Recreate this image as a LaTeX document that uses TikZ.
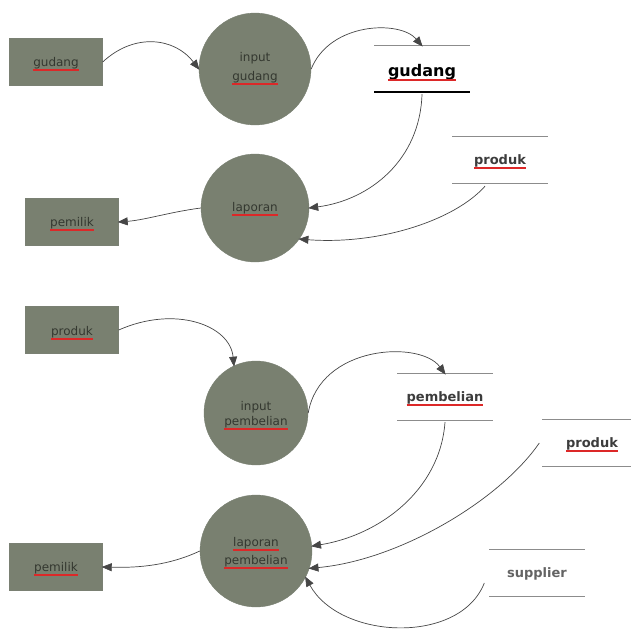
\documentclass[tikz,border=0pt]{standalone}
\usepackage{fontspec}
\setmainfont{DejaVu Sans}
\usetikzlibrary{arrows.meta}
\definecolor{shapefill}{RGB}{121,128,112}
\definecolor{shapetext}{RGB}{52,56,48}
\definecolor{linecol}{RGB}{70,70,70}
\definecolor{spell}{RGB}{220,40,40}
\definecolor{storegray}{RGB}{140,140,140}
\definecolor{storetext}{RGB}{60,60,60}
\tikzset{
  ent/.style={rectangle, fill=shapefill, draw=shapefill!80!gray, minimum width=93pt, minimum height=47pt, inner sep=0pt},
  proc/.style={circle, fill=shapefill, draw=shapefill!80!gray, inner sep=0pt},
  storebox/.style={minimum width=95pt, minimum height=46pt, inner sep=0pt,
    append after command={(\tikzlastnode.north west) edge[storegray, line width=0.8pt] (\tikzlastnode.north east)
                          (\tikzlastnode.south west) edge[storegray, line width=0.8pt] (\tikzlastnode.south east)}},
  word/.style={inner sep=0pt, outer sep=0pt, anchor=base, text=shapetext, font=\fontsize{12}{14}\selectfont},
  sword/.style={inner sep=0pt, outer sep=0pt, anchor=base, text=storetext, font=\bfseries\fontsize{13}{15}\selectfont},
  spelled/.style={append after command={([yshift=-4pt]\tikzlastnode.base west) edge[draw=spell, line width=2pt] ([yshift=-4pt]\tikzlastnode.base east)}},
  thinspelled/.style={append after command={([yshift=-4pt]\tikzlastnode.base west) edge[draw=spell, line width=2pt] ([yshift=-4pt]\tikzlastnode.base east)}},
  flow/.style={draw=linecol, line width=0.7pt, -{Triangle[length=10pt,width=8pt]}, shorten >=-1pt}
}
\begin{document}
\begin{tikzpicture}[x=1pt,y=1pt]
\useasboundingbox (0,0) rectangle (631,-632);
% ---- top diagram ----
\node[ent] (g1) at (56,-62) {};
\node[word, spelled] (g1t) at ([yshift=-4pt]g1.center) {gudang};
\node[proc, minimum size=112pt] (ig) at (255,-69) {};
\node[word] (igt1) at ([yshift=8pt]ig.center) {input};
\node[word, spelled] (igt2) at ([yshift=-11pt]ig.center) {gudang};
\node[minimum width=95pt, minimum height=46pt, inner sep=0pt] (sg) at (422,-69) {};
\draw[storegray, line width=0.8pt] (sg.north west) -- (sg.north east);
\draw[black, line width=1.6pt] (sg.south west) -- (sg.south east);
\node[sword, thinspelled, text=black, font=\bfseries\fontsize{16}{18}\selectfont] (sgt) at ([yshift=-7pt]sg.center) {gudang};
\node[proc, minimum size=108pt] (lap) at (255,-208) {};
\node[word, spelled] (lapt) at ([yshift=-3pt]lap.center) {laporan};
\node[ent] (pm1) at (72,-222) {};
\node[word, spelled] (pm1t) at ([yshift=-4pt]pm1.center) {pemilik};
\node[storebox] (sp1) at (500,-160) {};
\node[sword, thinspelled] (sp1t) at ([yshift=-4pt]sp1.center) {produk};

\draw[flow] (g1.east) .. controls (135,-32) and (175,-38) .. (ig.west);
\draw[flow] (ig.east) .. controls (330,-22) and (400,-20) .. (sg.north);
\draw[flow] ([yshift=-2pt]sg.south) .. controls (420,-160) and (370,-200) .. (lap.east);
\draw[flow] ([xshift=-15pt,yshift=-3pt]sp1.south) .. controls (455,-220) and (380,-245) .. (lap.-35);
\draw[flow] (lap.west) .. controls (170,-212) and (145,-220) .. (pm1.east);

% ---- bottom diagram ----
\node[ent] (pr) at (72,-330) {};
\node[word, spelled] (prt) at ([yshift=-5pt]pr.center) {produk};
\node[proc, minimum size=104pt] (ip) at (256,-413) {};
\node[word] (ipt1) at ([yshift=3pt]ip.center) {input};
\node[word, spelled] (ipt2) at ([yshift=-12pt]ip.center) {pembelian};
\node[storebox] (sp) at (445,-397) {};
\node[sword, thinspelled] (spt) at ([yshift=-4pt]sp.center) {pembelian};
\node[storebox, minimum width=91pt] (sp2) at (588,-443) {};
\node[sword, thinspelled] (sp2t) at ([xshift=4pt,yshift=-4pt]sp2.center) {produk};
\node[proc, minimum size=112pt] (lp) at (256,-551) {};
\node[word, spelled] (lpt1) at ([yshift=5pt]lp.center) {laporan};
\node[word, spelled] (lpt2) at ([yshift=-13pt]lp.center) {pembelian};
\node[ent] (pm2) at (56,-567) {};
\node[word, spelled] (pm2t) at ([yshift=-4pt]pm2.center) {pemilik};
\node[storebox] (ss) at (537,-573) {};
\node[sword, text=storetext!80!white] (sst) at ([yshift=-4pt]ss.center) {supplier};

\draw[flow] (pr.east) .. controls (175,-305) and (230,-325) .. (ip.115);
\draw[flow] (ip.east) .. controls (320,-345) and (420,-340) .. (sp.north);
\draw[flow] ([yshift=-2pt]sp.south) .. controls (440,-490) and (380,-535) .. (lp.5);
\draw[flow] ([xshift=-3pt]sp2.west) .. controls (500,-500) and (400,-560) .. (lp.-18);
\draw[flow] ([xshift=-5pt,yshift=-10pt]ss.west) .. controls (460,-645) and (340,-640) .. (lp.-28);
\draw[flow] (lp.west) .. controls (170,-565) and (140,-568) .. (pm2.east);
\end{tikzpicture}
\end{document}
